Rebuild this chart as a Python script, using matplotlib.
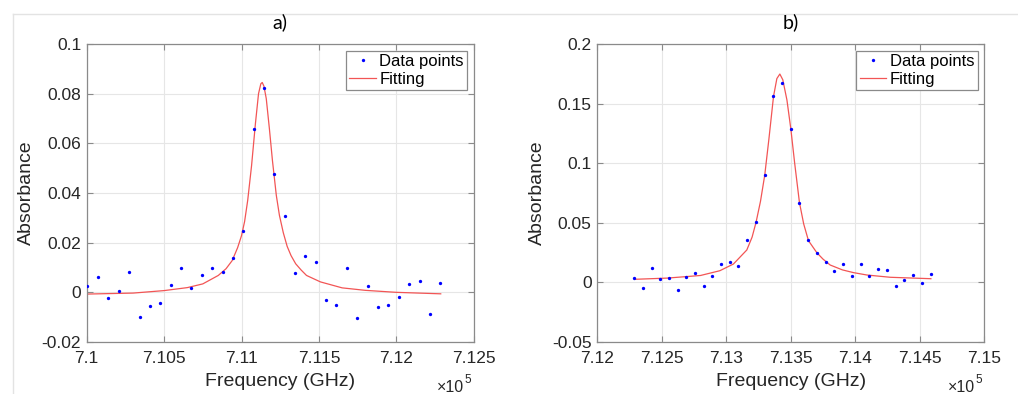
import matplotlib
matplotlib.use("Agg")
import matplotlib.pyplot as plt
from matplotlib.lines import Line2D
from matplotlib.ticker import FuncFormatter, MultipleLocator

plt.rcParams['font.family'] = ['Liberation Sans', 'DejaVu Sans']
plt.rcParams['axes.unicode_minus'] = False

# panel a: measured absorbance around 7.111e5 GHz
freq_a = [710004, 710073, 710140, 710206, 710275, 710342, 710409, 710475, 710542, 710609,
          710675, 710742, 710811, 710878, 710944, 711011, 711078, 711144, 711211, 711278,
          711345, 711413, 711480, 711547, 711613, 711680, 711749, 711815, 711882, 711949,
          712018, 712084, 712151, 712218, 712284]
abs_a = [0.0025, 0.0063, -0.0022, 0.0006, 0.0080, -0.0098, -0.0057, -0.0042, 0.0029, 0.0098,
         0.0016, 0.0068, 0.0099, 0.0080, 0.0139, 0.0246, 0.0657, 0.0824, 0.0476, 0.0307,
         0.0077, 0.0147, 0.0122, -0.0029, -0.0051, 0.0099, -0.0105, 0.0026, -0.0059, -0.0050,
         -0.0017, 0.0034, 0.0045, -0.0086, 0.0037]

fit_freq_a = [710000, 710300, 710500, 710650, 710750, 710850, 710900, 710940, 710975, 711000,
              711020, 711040, 711065, 711090, 711110, 711125, 711134, 711145, 711160, 711180,
              711200, 711225, 711245, 711270, 711295, 711320, 711350, 711385, 711420, 711510,
              711650, 711800, 712000, 712287]
fit_abs_a = [-0.0007, -0.0003, 0.0007, 0.0019, 0.0034, 0.0068, 0.0095, 0.0128, 0.0180, 0.0228,
             0.0285, 0.0370, 0.0510, 0.0680, 0.0800, 0.0840, 0.0845, 0.0830, 0.0780, 0.0660,
             0.0530, 0.0390, 0.0310, 0.0240, 0.0185, 0.0148, 0.0115, 0.0090, 0.0068, 0.0042,
             0.0018, 0.0008, 0.0000, -0.0006]

# panel b: measured absorbance around 7.134e5 GHz
freq_b = [712284, 712352, 712422, 712489, 712556, 712623, 712690, 712758, 712825, 712892,
          712959, 713027, 713094, 713161, 713231, 713298, 713365, 713433, 713500, 713567,
          713637, 713704, 713771, 713838, 713908, 713975, 714042, 714110, 714177, 714247,
          714314, 714381, 714448, 714519, 714586]
abs_b = [0.0039, -0.0050, 0.0118, 0.0028, 0.0037, -0.0067, 0.0048, 0.0076, -0.0028, 0.0056,
         0.0154, 0.0171, 0.0134, 0.0355, 0.0506, 0.0897, 0.1567, 0.1670, 0.1288, 0.0670,
         0.0352, 0.0249, 0.0168, 0.0098, 0.0154, 0.0053, 0.0157, 0.0056, 0.0109, 0.0104,
         -0.0028, 0.0020, 0.0062, -0.0005, 0.0070]

fit_freq_b = [712290, 712540, 712800, 712950, 713055, 713100, 713159, 713200, 713231, 713265,
              713298, 713330, 713366, 713392, 713415, 713438, 713470, 713500, 713530, 713567,
              713600, 713637, 713702, 713750, 713805, 713900, 713986, 714090, 714271, 714586]
fit_abs_b = [0.0026, 0.0036, 0.0058, 0.0098, 0.0154, 0.0205, 0.0272, 0.0380, 0.0506, 0.0680,
             0.0900, 0.1200, 0.1560, 0.1710, 0.1748, 0.1700, 0.1530, 0.1290, 0.1000, 0.0670,
             0.0490, 0.0350, 0.0249, 0.0195, 0.0146, 0.0105, 0.0082, 0.0062, 0.0043, 0.0031]

panels = [
    dict(title="a)", fx=freq_a, fy=abs_a, lx=fit_freq_a, ly=fit_abs_a,
         xlim=(710000, 712500), ylim=(-0.02, 0.1), ystep=0.02, left=86.7),
    dict(title="b)", fx=freq_b, fy=abs_b, lx=fit_freq_b, ly=fit_abs_b,
         xlim=(712000, 715000), ylim=(-0.05, 0.2), ystep=0.05, left=597.3),
]

W, H = 1018, 394
fig = plt.figure(figsize=(W / 100, H / 100), dpi=100)

# light frame lines along the top and left edge
fig.add_artist(Line2D([13 / W, 1], [1 - 14 / H, 1 - 14 / H], color='#e3e3e3', lw=1))
fig.add_artist(Line2D([13 / W, 13 / W], [0, 1 - 14 / H], color='#e3e3e3', lw=1))

edge = '#8a8a8a'
txt = '#262626'
for p in panels:
    ax = fig.add_axes([p['left'] / W, 1 - 342 / H, 387 / W, 298 / H])
    ax.plot(p['fx'], p['fy'], 'o', color='#0000ff', ms=2.4, mew=0, label='Data points', zorder=3)
    ax.plot(p['lx'], p['ly'], '-', color='#f25555', lw=0.9, label='Fitting', zorder=2)
    ax.set_xlim(*p['xlim'])
    ax.set_ylim(*p['ylim'])
    ax.xaxis.set_major_locator(MultipleLocator(500))
    ax.yaxis.set_major_locator(MultipleLocator(p['ystep']))
    ax.xaxis.set_major_formatter(FuncFormatter(lambda v, pos: '%g' % round(v / 1e5, 4)))
    ax.yaxis.set_major_formatter(FuncFormatter(lambda v, pos: '%g' % round(v, 4)))
    ax.grid(True, color='#e6e6e6', lw=0.8)
    ax.set_axisbelow(True)
    for s in ax.spines.values():
        s.set_color(edge)
        s.set_linewidth(0.9)
    ax.tick_params(direction='in', length=4, width=0.8, color=edge, labelcolor=txt,
                   labelsize=12.5, top=True, right=True)
    ax.tick_params(axis='x', pad=6.5)
    ax.tick_params(axis='y', pad=4)

    ax.set_xlabel('Frequency (GHz)', fontsize=14, color=txt, va='center')
    ax.xaxis.set_label_coords(0.5, -0.133)
    ax.set_ylabel('Absorbance', fontsize=14, color=txt, va='center')
    ax.yaxis.set_label_coords(-0.155, 0.5)

    # x10^5 multiplier under the right end of the axis
    ax.text(0.975, -0.168, '\u00d710', transform=ax.transAxes,
            ha='right', va='baseline', fontsize=11.5, color=txt)
    ax.text(0.977, -0.138, '5', transform=ax.transAxes,
            ha='left', va='baseline', fontsize=8.5, color=txt)

    fig.text((p['left'] + 193.5) / W, 1 - 22 / H, p['title'], ha='center', va='center',
             fontsize=14, family=['Lato', 'DejaVu Sans'], color='black')

    leg = ax.legend(loc='upper right', fontsize=12, frameon=True, fancybox=False,
                    framealpha=1, edgecolor=edge, borderaxespad=0.4, borderpad=0.2,
                    handlelength=1.6, handletextpad=0.2, labelspacing=0.15,
                    markerscale=1.0)
    leg.get_frame().set_linewidth(0.9)
    for t in leg.get_texts():
        t.set_color('black')

fig.savefig('out.png', dpi=100)
